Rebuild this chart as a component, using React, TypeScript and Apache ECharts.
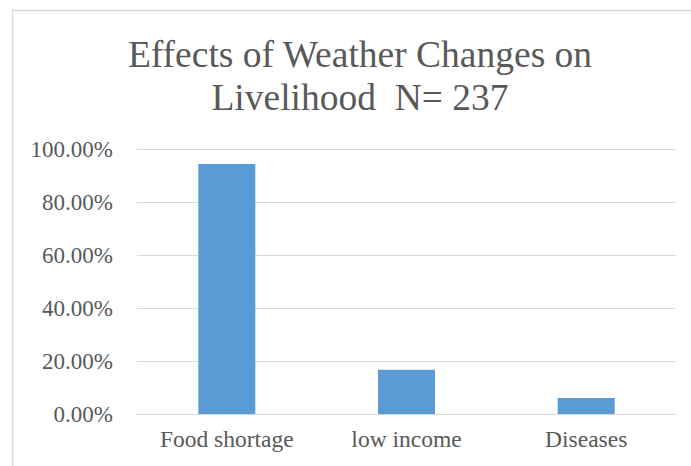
import React, { useEffect, useRef } from "react";
import * as echarts from "echarts";

const categories = ["Food shortage", "low income", "Diseases"];
const values = [0.943, 0.167, 0.06];
const titleLines = ["Effects of Weather Changes on", "Livelihood  N= 237"];

export default function App() {
  const ref = useRef<HTMLDivElement>(null);
  useEffect(() => {
    if (!ref.current) return;
    const chart = echarts.init(ref.current, null, { renderer: "svg" });
    const font = "Liberation Serif";
    chart.setOption({
      animation: false,
      backgroundColor: "#ffffff",
      textStyle: { fontFamily: font },
      title: {
        text: titleLines.join("\n"),
        left: 355,
        textAlign: "center",
        top: 28,
        textStyle: {
          fontFamily: font,
          fontSize: 37.5,
          fontWeight: "normal",
          color: "#595959",
          lineHeight: 43,
        },
      },
      graphic: [
        {
          type: "polyline",
          shape: { points: [[12.5, 470], [12.5, 10.5], [695, 10.5]] },
          style: { stroke: "#d9d9d9", lineWidth: 1.5, fill: null },
          silent: true,
        },
      ],
      grid: { left: 137, right: 15, top: 149, bottom: 52, containLabel: false },
      xAxis: {
        type: "category",
        data: categories,
        axisLine: { lineStyle: { color: "#d9d9d9", width: 1 } },
        axisTick: { show: false },
        axisLabel: {
          color: "#595959",
          fontFamily: font,
          fontSize: 23.5,
          margin: 13,
        },
      },
      yAxis: {
        type: "value",
        min: 0,
        max: 1,
        interval: 0.2,
        axisLine: { show: false },
        axisTick: { show: false },
        splitLine: { lineStyle: { color: "#d9d9d9", width: 1 } },
        axisLabel: {
          color: "#595959",
          fontFamily: font,
          fontSize: 23,
          margin: 24,
          formatter: (v: number) => (v * 100).toFixed(2) + "%",
        },
      },
      series: [
        {
          type: "bar",
          data: values,
          barWidth: 57,
          itemStyle: { color: "#5b9bd5" },
        },
      ],
    });
    return () => chart.dispose();
  }, []);
  return (
    <div
      ref={ref}
      style={{ position: "fixed", left: 0, top: 0, width: 691, height: 466 }}
    />
  );
}
